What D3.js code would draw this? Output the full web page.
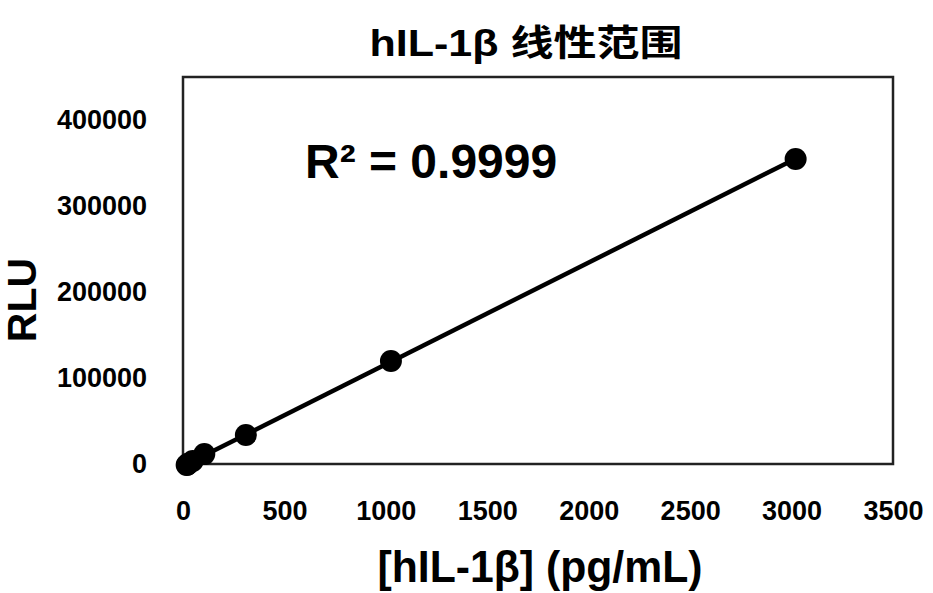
<!DOCTYPE html>
<html>
<head>
<meta charset="utf-8">
<script src="https://cdn.jsdelivr.net/npm/d3@7"></script>
<style>
  body { margin: 0; background: #fff; }
  text { font-family: "Liberation Sans", Arial, "Noto Sans CJK SC", sans-serif; font-weight: bold; fill: #000; }
</style>
</head>
<body>
<svg id="chart" width="933" height="593"></svg>
<script>
// data
var concentrations = [18, 21, 28, 48, 105, 310, 1025, 3020];   // pg/mL
var rluValues = [-1200, -800, 500, 3500, 11500, 33700, 119800, 354700];
var xTicks = [0, 500, 1000, 1500, 2000, 2500, 3000, 3500];
var yTicks = [0, 100000, 200000, 300000, 400000];
var chartTitle = "hIL-1β 线性范围";
var xTitle = "[hIL-1β] (pg/mL)";
var yTitle = "RLU";
var r2Label = "R² = 0.9999";

var svg = d3.select("#chart");

// plot area
var plotLeft = 183, plotRight = 893, plotTop = 77, plotBottom = 464;

var x = d3.scaleLinear().domain([0, 3500]).range([plotLeft, plotRight]);
var y = d3.scaleLinear().domain([0, 450000]).range([plotBottom, plotTop]);

// frame
svg.append("rect")
    .attr("x", plotLeft)
    .attr("y", plotTop)
    .attr("width", plotRight - plotLeft)
    .attr("height", plotBottom - plotTop)
    .attr("fill", "none")
    .attr("stroke", "#222")
    .attr("stroke-width", 2.5);

// axes, no tick marks
var xAxis = svg.append("g")
    .attr("transform", "translate(0," + plotBottom + ")")
    .call(d3.axisBottom(x).tickValues(xTicks).tickSize(0).tickPadding(37).tickFormat(d3.format("d")));
var yAxis = svg.append("g")
    .attr("transform", "translate(" + plotLeft + ",0)")
    .call(d3.axisLeft(y).tickValues(yTicks).tickSize(0).tickPadding(36).tickFormat(d3.format("d")));

[xAxis, yAxis].forEach(function(g) {
    g.select(".domain").remove();
    g.selectAll("text")
        .style("font-size", "27px")
        .style("font-family", "\"Liberation Sans\", Arial, sans-serif")
        .style("font-weight", "bold")
        .attr("fill", "#000");
});

// linear trendline (least squares)
var mx = d3.mean(concentrations), my = d3.mean(rluValues);
var sxy = d3.sum(concentrations, function(d, i) { return (d - mx) * (rluValues[i] - my); });
var sxx = d3.sum(concentrations, function(d) { return (d - mx) * (d - mx); });
var slope = sxy / sxx, intercept = my - slope * mx;
var xMin = d3.min(concentrations), xMax = d3.max(concentrations);

svg.append("line")
    .attr("x1", x(xMin))
    .attr("y1", y(slope * xMin + intercept))
    .attr("x2", x(xMax))
    .attr("y2", y(slope * xMax + intercept))
    .attr("stroke", "#000")
    .attr("stroke-width", 4.5);

// markers
svg.append("g")
    .selectAll("circle")
    .data(concentrations)
    .enter().append("circle")
        .attr("cx", function(d) { return x(d); })
        .attr("cy", function(d, i) { return y(rluValues[i]); })
        .attr("r", 11)
        .attr("fill", "#000");

// title
svg.append("text")
    .attr("x", 526)
    .attr("y", 56)
    .attr("text-anchor", "middle")
    .attr("textLength", 313)
    .attr("lengthAdjust", "spacingAndGlyphs")
    .style("font-size", "36px")
    .text(chartTitle);

// R squared
svg.append("text")
    .attr("x", 305)
    .attr("y", 178)
    .style("font-size", "48px")
    .text(r2Label);

// x axis title
svg.append("text")
    .attr("x", 540)
    .attr("y", 582)
    .attr("text-anchor", "middle")
    .attr("textLength", 325)
    .attr("lengthAdjust", "spacingAndGlyphs")
    .style("font-size", "44px")
    .text(xTitle);

// y axis title
svg.append("text")
    .attr("transform", "translate(36,300) rotate(-90)")
    .attr("text-anchor", "middle")
    .style("font-size", "41px")
    .text(yTitle);
</script>
</body>
</html>
